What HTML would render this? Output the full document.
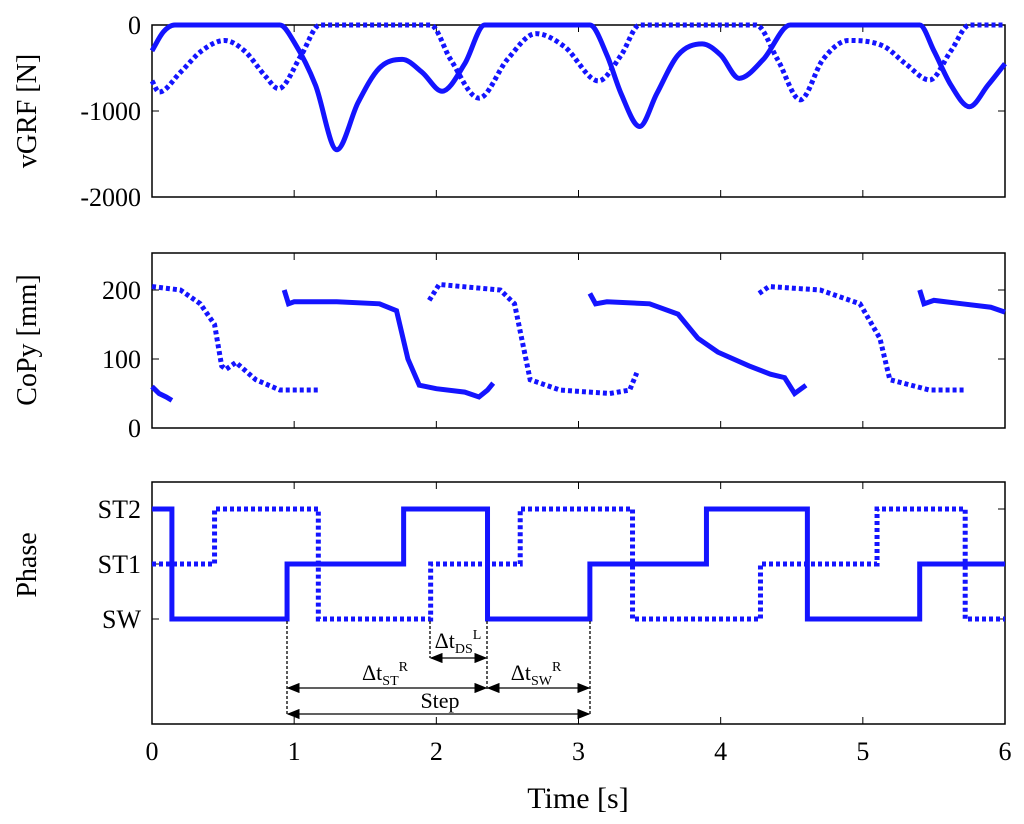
<!DOCTYPE html>
<html><head><meta charset="utf-8"><style>
html,body{margin:0;padding:0;background:#fff;}
svg{display:block;font-family:"Liberation Serif",serif;}
</style></head><body>
<svg id="chart" width="1024" height="824" viewBox="0 0 1024 824" xmlns="http://www.w3.org/2000/svg"></svg>
<script>
// ---- data ----
const timeTicks=[0,1,2,3,4,5,6];
const vgrfTicks=[0,-1000,-2000];
const copTicks=[0,100,200];
const phaseTicks=["SW","ST1","ST2"];
const vgrfSolidT=[0,0.08,0.16,0.3,0.9,1.0,1.15,1.3,1.45,1.6,1.76,1.9,2.04,2.2,2.34,2.5,3.08,3.2,3.3,3.43,3.55,3.7,3.87,4.0,4.13,4.3,4.49,4.6,5.4,5.5,5.62,5.75,5.88,6.0];
const vgrfSolidV=[-300,-80,0,0,0,-200,-700,-1450,-900,-500,-400,-550,-770,-450,0,0,0,-350,-800,-1180,-800,-350,-220,-350,-620,-400,0,0,0,-300,-700,-950,-700,-450];
const vgrfDashT=[0,0.05,0.2,0.35,0.51,0.65,0.8,0.89,1.05,1.18,1.3,1.96,2.1,2.3,2.5,2.7,2.9,3.14,3.3,3.43,3.6,4.25,4.4,4.56,4.72,4.9,5.15,5.3,5.47,5.62,5.75,6.0];
const vgrfDashV=[-650,-780,-550,-300,-180,-300,-600,-740,-350,0,0,0,-400,-850,-400,-100,-250,-650,-350,0,0,0,-400,-870,-400,-180,-250,-450,-640,-300,0,0];
const copSolid=[
 {t:[0,0.05,0.1,0.14],v:[60,50,45,40]},
 {t:[0.93,0.96,1.0,1.3,1.6,1.72,1.8,1.88,2.0,2.2,2.3,2.36,2.4],v:[200,180,183,183,180,170,100,62,57,52,45,55,65]},
 {t:[3.08,3.12,3.2,3.5,3.7,3.84,3.98,4.2,4.35,4.45,4.52,4.6],v:[195,180,183,180,165,130,110,90,78,73,50,62]},
 {t:[5.4,5.43,5.5,5.7,5.9,6.0],v:[200,180,185,180,175,168]}
];
const copDash=[
 {t:[0,0.2,0.34,0.44,0.49,0.52,0.59,0.73,0.9,1.17],v:[205,200,180,150,90,85,95,70,55,55]},
 {t:[1.95,2.02,2.45,2.55,2.66,2.87,3.22,3.36,3.41],v:[185,208,200,180,70,55,50,55,80]},
 {t:[4.27,4.34,4.7,4.98,5.12,5.19,5.47,5.72],v:[195,205,200,180,130,70,55,55]}
];
const phaseSolidT=[0,0.14,0.95,1.77,2.36,3.08,3.9,4.61,5.4,6];
const phaseSolidS=[2,0,1,2,0,1,2,0,1];
const phaseDashT=[0,0.44,1.17,1.96,2.59,3.38,4.28,5.1,5.72,6];
const phaseDashS=[1,2,0,1,2,0,1,2,0];
// ---- layout ----
const X0=152,X1=1005;
const xs=t=>X0+(t/6)*(X1-X0);
const yV=v=>25+(-v)*0.086;
const yC=v=>428-v*0.69;
const yP=s=>619-s*55;
const NS="http://www.w3.org/2000/svg";
const svg=document.getElementById('chart');
function el(tag,attrs,parent){const e=document.createElementNS(NS,tag);for(const k in attrs)e.setAttribute(k,attrs[k]);(parent||svg).appendChild(e);return e;}
const BLUE="#1414ff";
function smooth(pts){
 const n=pts.length,dx=[],m=[],tg=new Array(n);
 for(let i=0;i<n-1;i++){dx[i]=pts[i+1][0]-pts[i][0];m[i]=(pts[i+1][1]-pts[i][1])/dx[i];}
 tg[0]=m[0];tg[n-1]=m[n-2];
 for(let i=1;i<n-1;i++){tg[i]=(m[i-1]*m[i]<=0)?0:(m[i-1]+m[i])/2;}
 for(let i=0;i<n-1;i++){if(m[i]===0){tg[i]=0;tg[i+1]=0;continue;}const a=tg[i]/m[i],b=tg[i+1]/m[i],s=a*a+b*b;if(s>9){const k=3/Math.sqrt(s);tg[i]=k*a*m[i];tg[i+1]=k*b*m[i];}}
 let d="M"+pts[0][0]+","+pts[0][1];
 for(let i=0;i<n-1;i++){const h=dx[i]/3;d+=` C${pts[i][0]+h},${pts[i][1]+tg[i]*h} ${pts[i+1][0]-h},${pts[i+1][1]-tg[i+1]*h} ${pts[i+1][0]},${pts[i+1][1]}`;}
 return d;}
function frame(name,top,bot){
 const r=el('rect',{x:X0,y:top,width:X1-X0,height:bot-top,fill:'none',stroke:'#000','stroke-width':1.5});
 
 timeTicks.forEach(t=>{el('line',{x1:xs(t),x2:xs(t),y1:bot,y2:bot-7,stroke:'#000'});el('line',{x1:xs(t),x2:xs(t),y1:top,y2:top+7,stroke:'#000'});});
}
function ylabel(text,cx,cy,name){const t=el('text',{x:cx,y:cy,'font-size':28,'text-anchor':'middle',transform:`rotate(-90 ${cx} ${cy})`});t.textContent=text;}
function ytick(text,y,name){el('line',{x1:X0,x2:X0+7,y1:y,y2:y,stroke:'#000'});el('line',{x1:X1,x2:X1-7,y1:y,y2:y,stroke:'#000'});const t=el('text',{x:141,y:y+9,'font-size':26,'text-anchor':'end'});t.textContent=text;}
// panel 1
frame('vgrf-axes',25,197);
vgrfTicks.forEach(v=>ytick(String(v),yV(v),'vgrf-tick'));
ylabel('vGRF [N]',36,111,'vgrf-y-title');
let p=el('path',{d:smooth(vgrfDashT.map((t,i)=>[xs(t),yV(vgrfDashV[i])])),fill:'none',stroke:BLUE,'stroke-width':5,'stroke-dasharray':'4 3'});

p=el('path',{d:smooth(vgrfSolidT.map((t,i)=>[xs(t),yV(vgrfSolidV[i])])),fill:'none',stroke:BLUE,'stroke-width':5});

// panel 2
frame('copy-axes',253,428);
copTicks.forEach(v=>ytick(String(v),yC(v),'copy-tick'));
ylabel('CoPy [mm]',36,340,'copy-y-title');
copDash.forEach(s=>{const q=el('polyline',{points:s.t.map((t,i)=>xs(t)+','+yC(s.v[i])).join(' '),fill:'none',stroke:BLUE,'stroke-width':5,'stroke-dasharray':'4 3'});});
copSolid.forEach(s=>{const q=el('polyline',{points:s.t.map((t,i)=>xs(t)+','+yC(s.v[i])).join(' '),fill:'none',stroke:BLUE,'stroke-width':5});});
// panel 3
frame('phase-axes',482,724);
phaseTicks.forEach((s,i)=>ytick(s,yP(i),'phase-tick'));
ylabel('Phase',36,565,'phase-y-title');
function stepPath(T,S){let d=`M${xs(T[0])},${yP(S[0])}`;for(let i=0;i<S.length;i++){d+=` L${xs(T[i+1])},${yP(S[i])}`;if(i+1<S.length)d+=` L${xs(T[i+1])},${yP(S[i+1])}`;}return d;}
p=el('path',{d:stepPath(phaseDashT,phaseDashS),fill:'none',stroke:BLUE,'stroke-width':5,'stroke-dasharray':'4 3'});

p=el('path',{d:stepPath(phaseSolidT,phaseSolidS),fill:'none',stroke:BLUE,'stroke-width':5});

// annotations
const ann=el('g',{});
el('defs',{}).innerHTML='<marker id="ah" markerWidth="10" markerHeight="8" refX="9" refY="4" orient="auto-start-reverse"><path d="M0,0 L10,4 L0,8 z" fill="#000"/></marker>';
[[287,716],[487,690],[430,658],[590,716]].forEach(v=>el('line',{x1:v[0],x2:v[0],y1:621,y2:v[1],stroke:'#000','stroke-width':1.3,'stroke-dasharray':'3 2'},ann));
function arrow(a,b,y){el('line',{x1:a+1,x2:b-1,y1:y,y2:y,stroke:'#000','stroke-width':1.3,'marker-start':'url(#ah)','marker-end':'url(#ah)'},ann);}
arrow(430,487,658);arrow(287,487,688);arrow(487,590,688);arrow(287,590,714);
function lab(x,y,html,name){const t=el('text',{x:x,y:y,'font-size':22,'text-anchor':'middle'},ann);t.innerHTML=html;}
lab(458,648,'Δt<tspan font-size="14" dy="5">DS</tspan><tspan font-size="14" dy="-14">L</tspan>','delta-t-ds-label');
lab(385,680,'Δt<tspan font-size="14" dy="5">ST</tspan><tspan font-size="14" dy="-14">R</tspan>','delta-t-st-label');
lab(536,680,'Δt<tspan font-size="14" dy="5">SW</tspan><tspan font-size="14" dy="-14">R</tspan>','delta-t-sw-label');
lab(440,708,'Step','step-label');
// x axis
timeTicks.forEach(t=>{const q=el('text',{x:xs(t),y:760,'font-size':26,'text-anchor':'middle'});q.textContent=t;});
const xt=el('text',{x:578,y:808,'font-size':30,'text-anchor':'middle'});xt.textContent='Time [s]';

</script>
</body></html>
